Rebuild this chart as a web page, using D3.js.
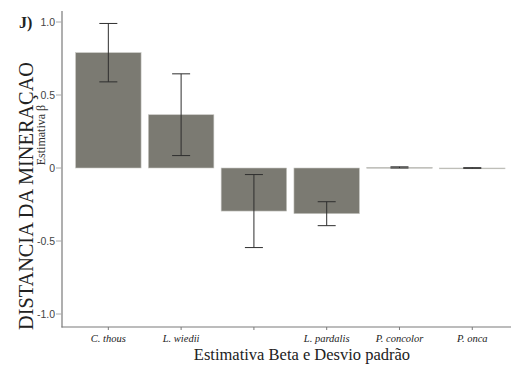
<!DOCTYPE html>
<html><head><meta charset="utf-8">
<script src="https://cdn.jsdelivr.net/npm/d3@7"></script>
<style>body{margin:0;background:#fff}svg{display:block}</style>
</head><body>
<svg id="c" width="511" height="370"></svg>
<script>
const categories = ["C. thous","L. wiedii","","L. pardalis","P. concolor","P. onca"];
const estimates = [0.79, 0.365, -0.295, -0.313, 0.004, 0.0];
const deviations = [0.20, 0.28, 0.25, 0.082, 0.004, 0.002];
const yTicks = [1.0, 0.5, 0, -0.5, -1.0];
const yTickLabels = ["1.0","0.5","0","-0.5","-1.0"];

const svg = d3.select("#c");
const x = d3.scaleBand().domain(d3.range(categories.length)).range([68.3, 512.3]).padding(0.1);
const y = d3.scaleLinear().domain([-1, 1]).range([314, 22]);

// bars
svg.selectAll("rect.bar").data(estimates).join("rect")
  .attr("x", (d,i)=>x(i)).attr("width", x.bandwidth())
  .attr("y", d=>Math.min(y(d), y(0))).attr("height", d=>Math.max(Math.abs(y(d)-y(0)), 0.8))
  .attr("fill", "#7b7a72").attr("stroke", "#c8c8c4").attr("stroke-width", 0.6);

// error bars
const g = svg.append("g").attr("stroke", "#2e2e2e").attr("stroke-width", 1).attr("fill","none");
estimates.forEach((d,i)=>{
  const cx = x(i)+x.bandwidth()/2;
  const lo = y(d-deviations[i]), hi = y(d+deviations[i]);
  g.append("line").attr("x1",cx).attr("x2",cx).attr("y1",lo).attr("y2",hi);
  g.append("line").attr("x1",cx-9).attr("x2",cx+9).attr("y1",lo).attr("y2",lo);
  g.append("line").attr("x1",cx-9).attr("x2",cx+9).attr("y1",hi).attr("y2",hi);
});

// axes
const axCol = "#7a7a7a";
svg.append("line").attr("x1",62).attr("x2",62).attr("y1",11).attr("y2",327.5).attr("stroke",axCol).attr("stroke-width",1.2);
svg.append("line").attr("x1",61.5).attr("x2",511).attr("y1",327).attr("y2",327).attr("stroke",axCol).attr("stroke-width",1.2);

const yAx = svg.append("g");
yTicks.forEach((t,i)=>{
  yAx.append("line").attr("x1",56).attr("x2",62).attr("y1",y(t)).attr("y2",y(t)).attr("stroke","#aaa");
  yAx.append("text").attr("x",55).attr("y",y(t)).attr("dy","0.35em").attr("text-anchor","end")
    .attr("font-family","Liberation Sans, Arial, sans-serif").attr("font-size",10.5).attr("fill","#444").text(yTickLabels[i]);
});

categories.forEach((c,i)=>{
  const cx = x(i)+x.bandwidth()/2;
  svg.append("line").attr("x1",cx).attr("x2",cx).attr("y1",327).attr("y2",330).attr("stroke",axCol);
  svg.append("text").attr("x",cx).attr("y",342).attr("text-anchor","middle")
    .attr("font-family","Liberation Serif, Times New Roman, serif").attr("font-style","italic")
    .attr("font-size",10.5).attr("fill","#222").text(c);
});

svg.append("text").attr("x",302).attr("y",360).attr("text-anchor","middle")
  .attr("font-family","Liberation Serif, Times New Roman, serif").attr("font-size",16.5).attr("fill","#222")
  .text("Estimativa Beta e Desvio padrão");

svg.append("text").attr("transform","translate(33,196) rotate(-90)").attr("text-anchor","middle")
  .attr("font-family","Liberation Serif, Times New Roman, serif").attr("font-size",21).attr("fill","#222")
  .attr("textLength",268).attr("lengthAdjust","spacingAndGlyphs")
  .text("DISTANCIA DA MINERAÇAO");
svg.append("text").attr("transform","translate(45,135) rotate(-90)").attr("text-anchor","middle")
  .attr("font-family","Liberation Serif, Times New Roman, serif").attr("font-size",12).attr("fill","#333")
  .text("Estimativa β");

svg.append("text").attr("x",19).attr("y",28)
  .attr("font-family","Liberation Serif, Times New Roman, serif").attr("font-size",16).attr("font-weight","bold").attr("fill","#222")
  .text("J)");
</script>
</body></html>
